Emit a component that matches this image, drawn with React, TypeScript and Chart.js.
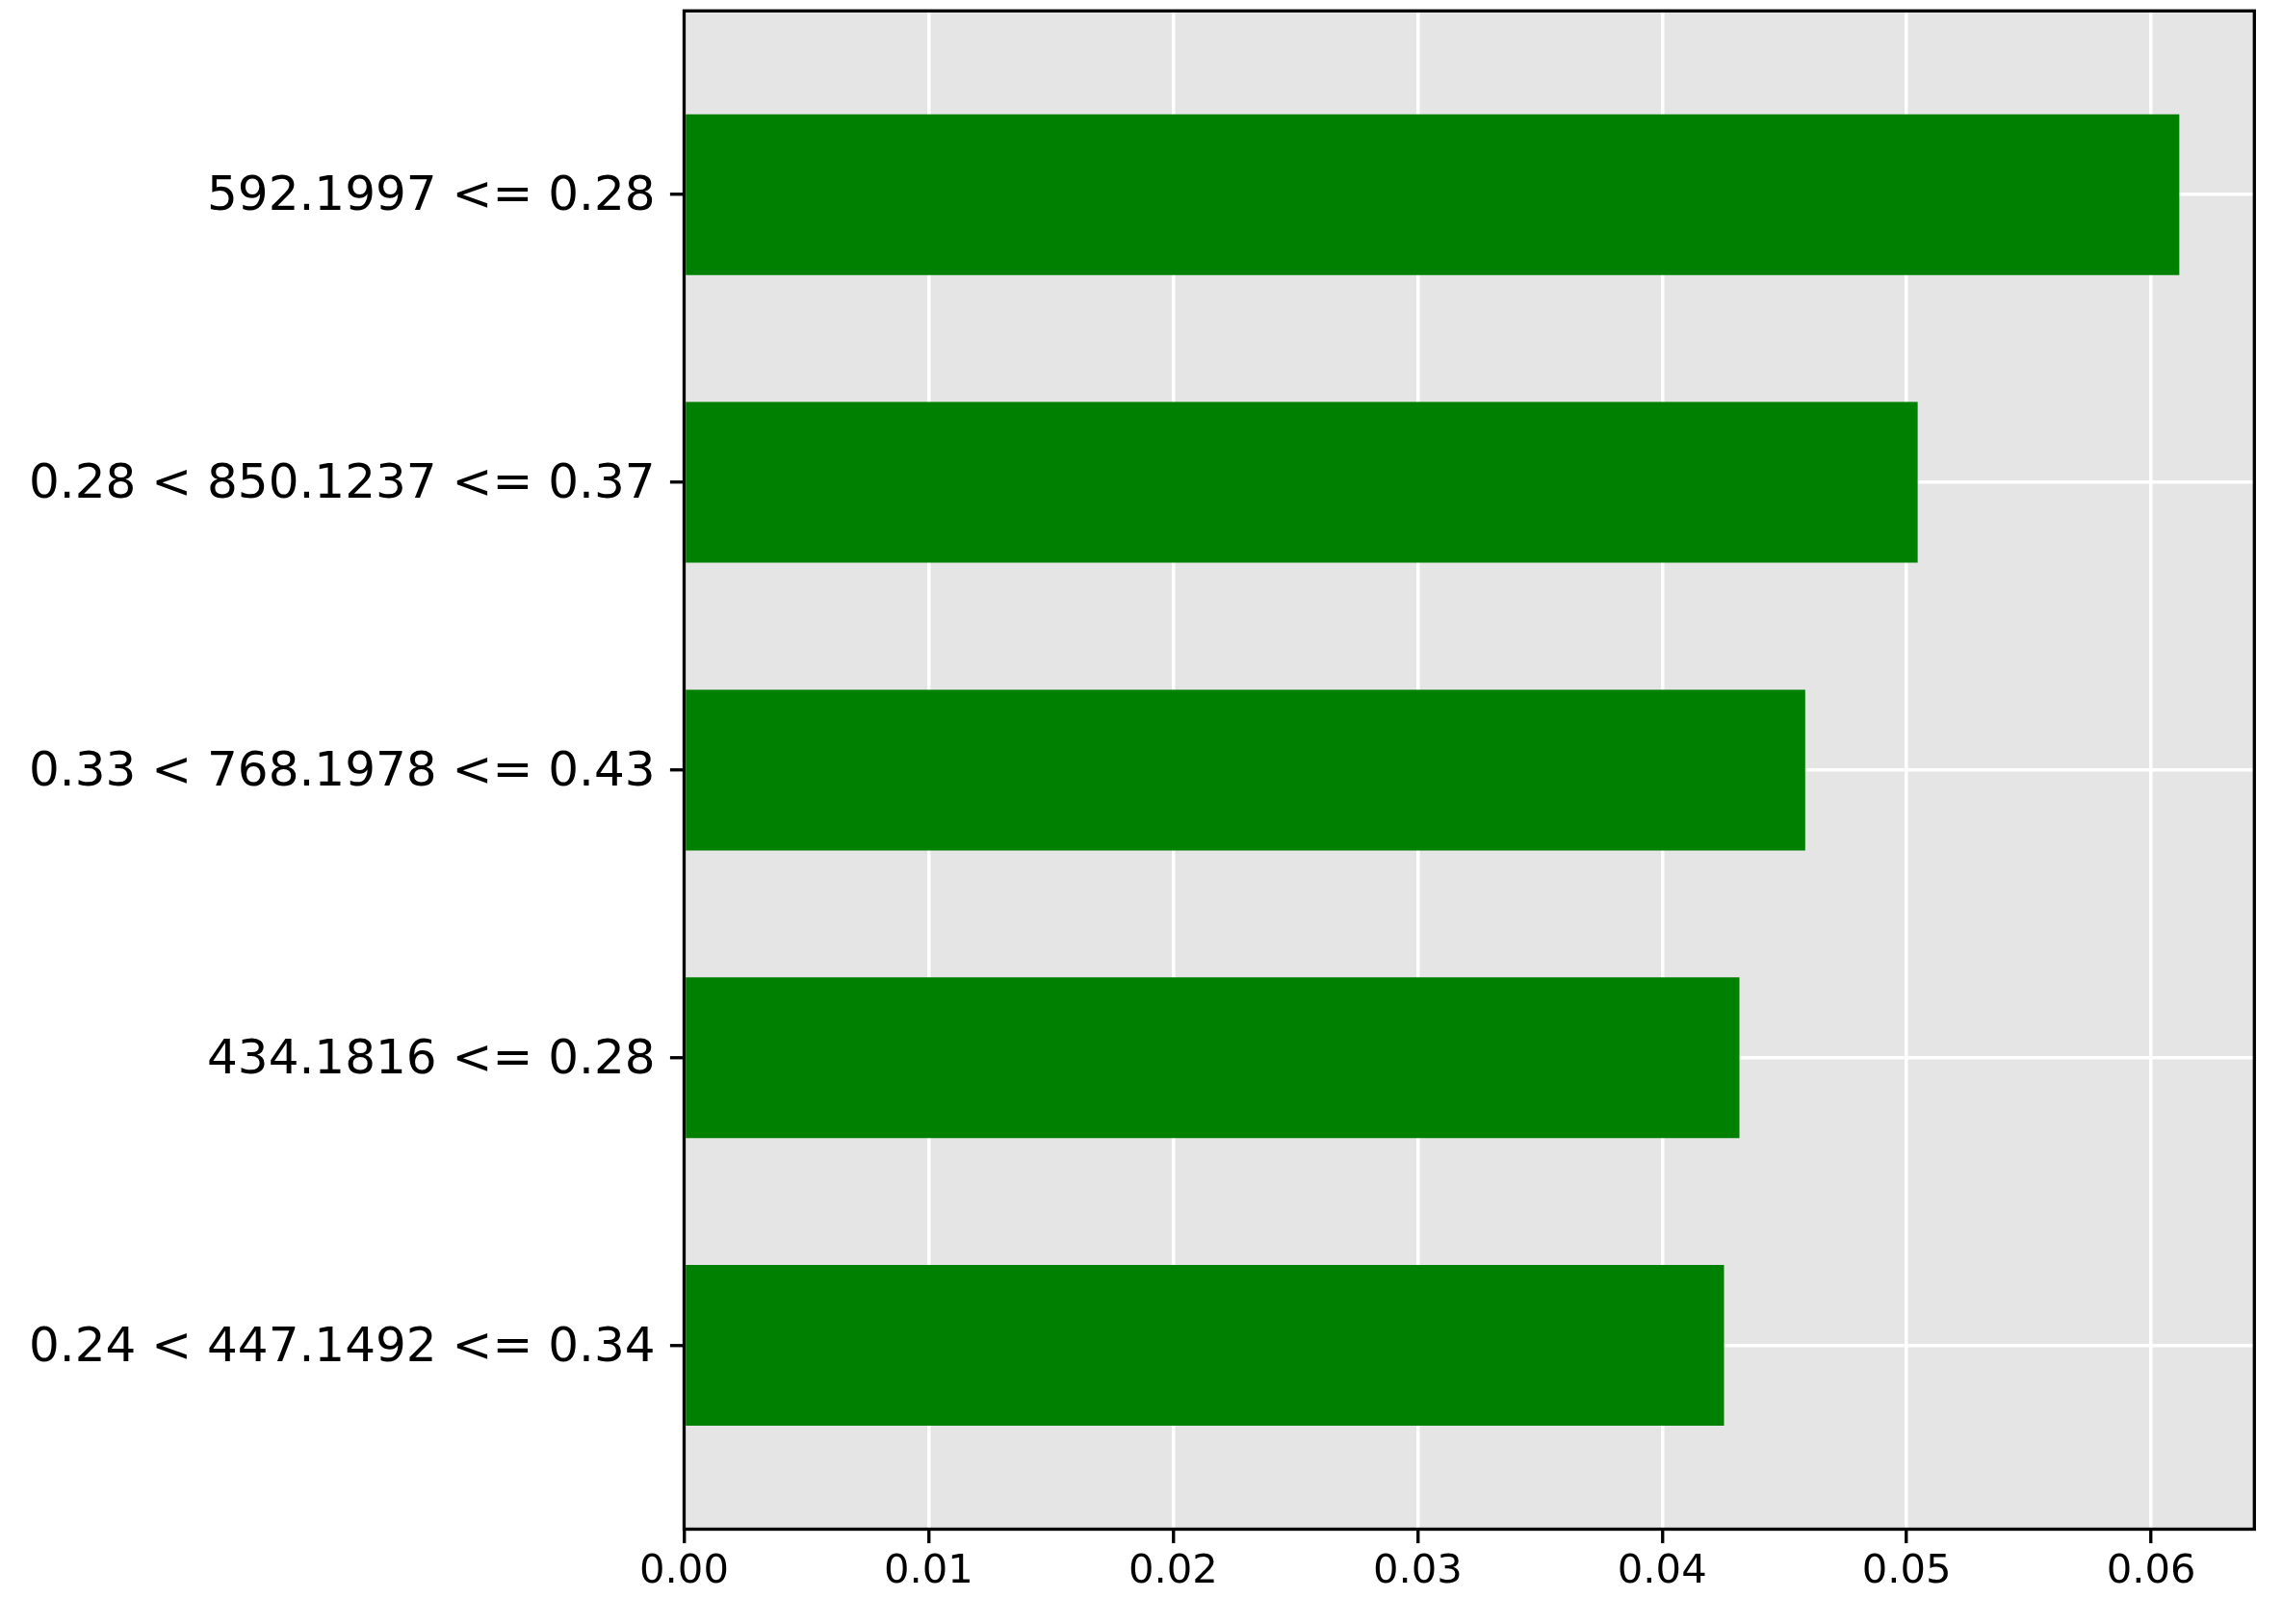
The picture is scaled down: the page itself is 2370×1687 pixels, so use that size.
import React, { useEffect, useRef } from "react";
import { Chart, registerables } from "chart.js";

Chart.register(...registerables);

const categories = [
  "592.1997 <= 0.28",
  "0.28 < 850.1237 <= 0.37",
  "0.33 < 768.1978 <= 0.43",
  "434.1816 <= 0.28",
  "0.24 < 447.1492 <= 0.34",
];
const values = [0.06115, 0.05045, 0.04585, 0.04316, 0.04253];
const xTicks = [0, 0.01, 0.02, 0.03, 0.04, 0.05, 0.06];
const xMax = 0.06422;
const yPad = 0.639;

const W = 2370;
const H = 1687;
const AREA = { left: 710.5, top: 11.3, right: 2341.3, bottom: 1588.5 };

const framePlugin = {
  id: "frame",
  beforeDraw(chart: any) {
    const { ctx, chartArea } = chart;
    ctx.save();
    ctx.fillStyle = "#e5e5e5";
    ctx.fillRect(chartArea.left, chartArea.top, chartArea.right - chartArea.left, chartArea.bottom - chartArea.top);
    ctx.restore();
  },
  afterDatasetsDraw(chart: any) {
    const { ctx, chartArea } = chart;
    ctx.save();
    ctx.strokeStyle = "#000000";
    ctx.lineWidth = 3.33;
    ctx.strokeRect(chartArea.left, chartArea.top, chartArea.right - chartArea.left, chartArea.bottom - chartArea.top);
    ctx.restore();
  },
};

export default function App() {
  const ref = useRef<HTMLCanvasElement | null>(null);
  useEffect(() => {
    if (!ref.current) return;
    const chart = new Chart(ref.current, {
      type: "bar",
      data: {
        datasets: [
          {
            data: values.map((v, i) => ({ x: v, y: i })),
            backgroundColor: "#008000",
            borderWidth: 0,
            barPercentage: 0.559,
            categoryPercentage: 1,
          },
        ],
      },
      options: {
        indexAxis: "y",
        animation: false,
        responsive: false,
        devicePixelRatio: 1,
        layout: {
          autoPadding: false,
          padding: { left: 0, top: AREA.top, right: W - AREA.right, bottom: 0 },
        },
        plugins: { legend: { display: false }, tooltip: { enabled: false }, title: { display: false } },
        scales: {
          x: {
            type: "linear",
            position: "bottom",
            min: 0,
            max: xMax,
            offset: false,
            afterBuildTicks: (scale: any) => {
              scale.ticks = xTicks.map((v) => ({ value: v }));
            },
            afterFit: (scale: any) => {
              scale.height = H - AREA.bottom;
              scale.paddingLeft = 0;
              scale.paddingRight = 0;
              scale.paddingTop = 0;
              scale.paddingBottom = 0;
            },
            grid: {
              offset: false,
              color: "#ffffff",
              lineWidth: 3.5,
              drawTicks: true,
              tickLength: 14.6,
              tickColor: "#000000",
              tickWidth: 3.33,
            },
            border: { display: false },
            ticks: {
              color: "#000000",
              padding: 5,
              maxRotation: 0,
              autoSkip: false,
              font: { family: "DejaVu Sans", size: 41.7 },
              callback: (v: any) => Number(v).toFixed(2),
            },
          },
          y: {
            type: "linear",
            position: "left",
            reverse: true,
            offset: false,
            min: -yPad,
            max: categories.length - 1 + yPad,
            afterBuildTicks: (scale: any) => {
              scale.ticks = categories.map((_, i) => ({ value: i }));
            },
            afterFit: (scale: any) => {
              scale.width = AREA.left;
              scale.paddingLeft = 0;
              scale.paddingRight = 0;
              scale.paddingTop = 0;
              scale.paddingBottom = 0;
            },
            grid: {
              offset: false,
              color: "#ffffff",
              lineWidth: 3.5,
              drawTicks: true,
              tickLength: 14.6,
              tickColor: "#000000",
              tickWidth: 3.33,
            },
            border: { display: false },
            ticks: {
              color: "#000000",
              padding: 15.4,
              labelOffset: 3,
              autoSkip: false,
              font: { family: "DejaVu Sans", size: 50 },
              callback: (v: any) => categories[Math.round(Number(v))] ?? "",
            },
          },
        },
      },
      plugins: [framePlugin],
    } as any);
    return () => chart.destroy();
  }, []);
  return (
    <div style={{ position: "absolute", left: 0, top: 0, width: W, height: H, background: "#ffffff" }}>
      <canvas ref={ref} width={W} height={H} style={{ width: W, height: H, display: "block" }} />
    </div>
  );
}
